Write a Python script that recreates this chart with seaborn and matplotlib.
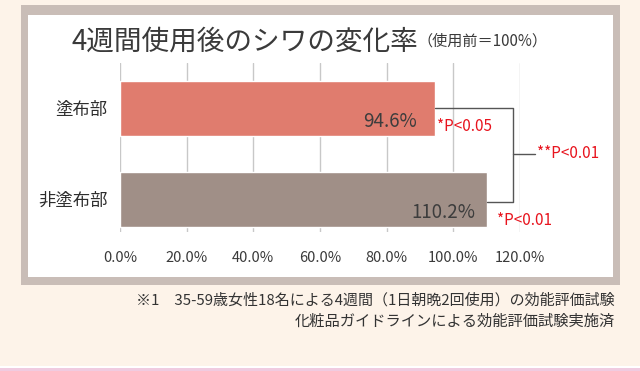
import matplotlib
matplotlib.use("Agg")
import matplotlib.pyplot as plt
import seaborn as sns
import pandas as pd
from matplotlib.patches import Rectangle

# ---- data ----
categories = ["塗布部", "非塗布部"]
values = [94.6, 110.2]
value_labels = ["94.6%", "110.2%"]
sig_labels = ["*P<0.05", "*P<0.01"]
pair_label = "**P<0.01"
xticks = [0, 20, 40, 60, 80, 100, 120]
xtick_labels = ["0.0%", "20.0%", "40.0%", "60.0%", "80.0%", "100.0%", "120.0%"]
title = "4週間使用後のシワの変化率"
subtitle = "（使用前＝100%）"
note1 = "※1　35-59歳女性18名による4週間（1日朝晩2回使用）の効能評価試験"
note2 = "化粧品ガイドラインによる効能評価試験実施済"

bar_colors = ["#e07c6e", "#a08f87"]
red = "#e8141e"

sns.set_theme(style="white")
plt.rcParams["font.family"] = ["Noto Sans CJK JP", "DejaVu Sans"]

W, H = 640, 371
fig = plt.figure(figsize=(W / 100, H / 100), dpi=100)
fig.patch.set_facecolor("#fdf3e9")

def fx(px):
    return px / W

def fy(py):
    return 1 - py / H

# frame and white panel
fig.patches.append(Rectangle((fx(21), fy(285)), fx(620) - fx(21), fy(5) - fy(285),
                             transform=fig.transFigure, facecolor="#c9bdb7", edgecolor="none", zorder=-10))
fig.patches.append(Rectangle((fx(28), fy(277)), fx(613) - fx(28), fy(15) - fy(277),
                             transform=fig.transFigure, facecolor="white", edgecolor="none", zorder=-9))
# bottom pink line
fig.patches.append(Rectangle((0, 0), 1, 3 / H,
                             transform=fig.transFigure, facecolor="#f0cbe0", edgecolor="none", zorder=-10))
fig.patches.append(Rectangle((0, 3 / H), 1, 2 / H,
                             transform=fig.transFigure, facecolor="#ffffff", edgecolor="none", zorder=-10))

ax = fig.add_axes([fx(120), fy(232), fx(520) - fx(120), fy(63) - fy(232)])
ax.set_facecolor("none")
ax.set_zorder(5)

df = pd.DataFrame({"part": categories, "value": values})
sns.barplot(data=df, x="value", y="part", hue="part", palette=bar_colors,
            orient="h", width=0.6, legend=False, saturation=1, ax=ax, zorder=2)

ax.set_xlim(0, 120)
ax.set_ylim(1.36, -0.5)
ax.set_xticks(xticks)
ax.set_xticklabels(xtick_labels, fontsize=10.5, color="#3a3a3a")
ax.tick_params(axis="x", length=0, pad=14)
ax.tick_params(axis="y", length=0, pad=9, labelsize=12.5, labelcolor="#2e2e2e")
ax.set_xlabel("")
ax.set_ylabel("")
for s in ax.spines.values():
    s.set_visible(False)
ax.xaxis.grid(True, color="#c8c8c8", lw=1)
ax.yaxis.grid(False)
ax.set_axisbelow(True)

# value labels inside bars
val_offsets = [5.5, 3.5]
for i, (v, lab) in enumerate(zip(values, value_labels)):
    ax.text(v - val_offsets[i], i + 0.14, lab, ha="right", va="center",
            fontsize=13.5, color="#3d3d3d", zorder=5)

# significance labels
sig_offsets = [0.6, 2.8]
sig_dy = [0.2, 0.23]
for i, (v, lab) in enumerate(zip(values, sig_labels)):
    ax.text(v + sig_offsets[i], i + sig_dy[i], lab, ha="left", va="center",
            fontsize=11, color=red, clip_on=False, zorder=5)

# bracket between bars
bx = 117.9
ax.plot([values[0], bx, bx, values[1]], [0.0, 0.0, 1.03, 1.03],
        color="#555555", lw=1, clip_on=False, zorder=4)
ax.plot([bx, 124.5], [0.5, 0.5], color="#555555", lw=1, clip_on=False, zorder=4)
ax.text(125.1, 0.5, pair_label, ha="left", va="center", fontsize=11,
        color=red, clip_on=False)

# title
fig.text(fx(71), fy(42), title, ha="left", va="center", fontsize=19.9, color="#3a3a3a")
fig.text(fx(547), fy(41), subtitle, ha="right", va="center", fontsize=10.9, color="#3a3a3a")

# footnotes
fig.text(fx(615), fy(300.5), note1, ha="right", va="center", fontsize=10.8, color="#333333")
fig.text(fx(615), fy(321.5), note2, ha="right", va="center", fontsize=11, color="#333333")

fig.savefig("out.png", dpi=100, facecolor=fig.get_facecolor())
